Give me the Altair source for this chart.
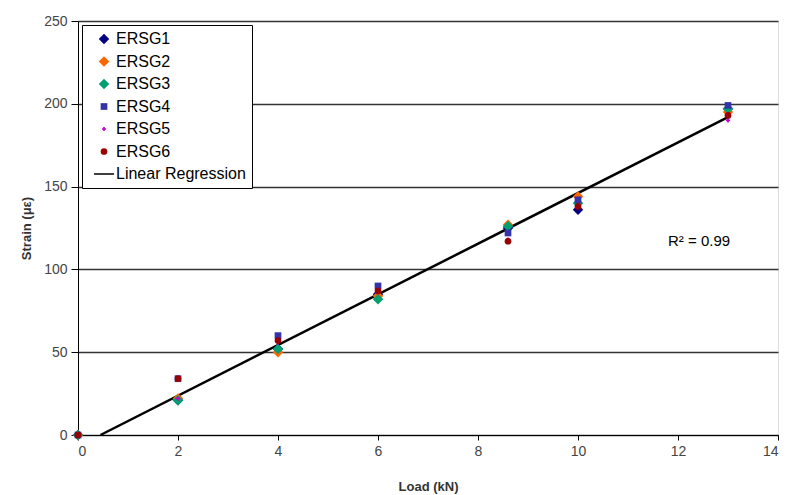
import altair as alt
import pandas as pd

loads = [0, 2, 4, 6, 8.6, 10, 13]
series_names = ["ERSG1", "ERSG2", "ERSG3", "ERSG4", "ERSG5", "ERSG6"]
ersg1 = [0, 21, 52, 85, 125, 136, 197]
ersg2 = [0, 22, 50, 84, 127, 144, 195]
ersg3 = [0, 21, 52, 82, 126, 140, 197]
ersg4 = [0, 34, 60, 90, 122, 142, 199]
ersg5 = [0, 22, 56, 87, 118, 139, 190]
ersg6 = [0, 34, 57, 87, 117, 138, 193]
reg_load = [0.45, 13]
reg_strain = [0, 192]
r2_text = ["R\u00b2 = 0.99"]
r2_load = [11.8]
r2_strain = [117]

all_series = [ersg1, ersg2, ersg3, ersg4, ersg5, ersg6]
rows = []
for name, vals in zip(series_names, all_series):
    for l, v in zip(loads, vals):
        rows.append({"series": name, "load": l, "strain": v})
df = pd.DataFrame(rows)
reg_df = pd.DataFrame({"load": reg_load, "strain": reg_strain})
r2_df = pd.DataFrame({"label": r2_text, "load": r2_load, "strain": r2_strain})

dom = series_names + ["Linear Regression"]
colors = ["#000080", "#FF6600", "#00A070", "#3333AA", "#CC00CC", "#990000", "#000000"]
shapes = ["diamond", "diamond", "diamond", "square", "cross", "circle",
          "M-2,-0.15H2V0.15H-2Z"]
sizes = [110, 110, 110, 45, 18, 45, 100]

FONT = "Liberation Sans"
xscale = alt.Scale(domain=[0, 14], nice=False)
yscale = alt.Scale(domain=[0, 250], nice=False)

xax = alt.Axis(values=list(range(0, 15, 2)), grid=False, tickSize=5,
               domainColor="#000", tickColor="#000", labelColor="#444",
               labelFont=FONT, labelFontSize=14, titleFont=FONT, titleFontSize=13,
               titleFontWeight="bold", titleColor="#333", titlePadding=22, labelPadding=4)
yax = alt.Axis(values=list(range(0, 251, 50)), grid=True, gridColor="#333",
               gridWidth=1.3, tickSize=7, domainColor="#000", tickColor="#000",
               labelColor="#444", labelFont=FONT, labelFontSize=14, titleFont=FONT,
               titleFontSize=13, titleFontWeight="bold", titleColor="#333",
               titlePadding=10, labelPadding=4)

legend = alt.Legend(title=None, orient="none", legendX=4, legendY=4,
                    strokeColor="#000", fillColor="#fff", padding=6,
                    labelFont=FONT, labelFontSize=16, labelColor="#000",
                    rowPadding=6.5, symbolStrokeWidth=0, labelOffset=4,
                    symbolOffset=8, symbolOpacity=1)

points = alt.Chart(df).mark_point(filled=True, opacity=1).encode(
    x=alt.X("load:Q", scale=xscale, axis=xax, title="Load (kN)"),
    y=alt.Y("strain:Q", scale=yscale, axis=yax, title="Strain (\u03bc\u03b5)"),
    color=alt.Color("series:N", scale=alt.Scale(domain=dom, range=colors), legend=legend),
    shape=alt.Shape("series:N", scale=alt.Scale(domain=dom, range=shapes), legend=legend),
    size=alt.Size("series:N", scale=alt.Scale(type="ordinal", domain=dom, range=sizes),
                  legend=legend),
    order=alt.Order("series:N"),
)

line = alt.Chart(reg_df).mark_line(color="#000", strokeWidth=2.5).encode(
    x=alt.X("load:Q", scale=xscale),
    y=alt.Y("strain:Q", scale=yscale),
)

r2 = alt.Chart(r2_df).mark_text(align="left", baseline="middle", font=FONT,
                                fontSize=15, color="#000").encode(
    x=alt.X("load:Q", scale=xscale),
    y=alt.Y("strain:Q", scale=yscale),
    text="label:N",
)

chart = alt.layer(line, points, r2).properties(
    width=700, height=414,
    autosize=alt.AutoSizeParams(type="none"),
    padding={"left": 78, "top": 21, "right": 12, "bottom": 60},
).configure_view(stroke=None).configure(background="#fff")

chart.save("out.html", embed_options={"renderer": "svg", "actions": False})
